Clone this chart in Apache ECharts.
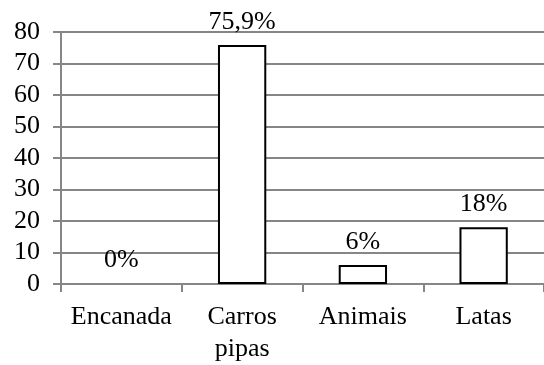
<!DOCTYPE html>
<html><head><meta charset="utf-8">
<script src="https://cdn.jsdelivr.net/npm/echarts@6/dist/echarts.min.js"></script>
<style>html,body{margin:0;padding:0;background:#fff}#c{width:544px;height:365px}</style>
</head><body><div id="c"></div>
<script>
const categories = ['Encanada', 'Carros\npipas', 'Animais', 'Latas'];
const values = [0, 75.9, 6, 18];
const valueLabels = ['0%', '75,9%', '6%', '18%'];
const yTicks = [0, 10, 20, 30, 40, 50, 60, 70, 80];

const font = "'Liberation Serif', 'Times New Roman', serif";
const chart = echarts.init(document.getElementById('c'));
chart.setOption({
  animation: false,
  grid: { left: 61, top: 32, width: 490, bottom: 78, containLabel: false },
  xAxis: {
    type: 'category', data: categories,
    axisLine: { lineStyle: { color: '#868686', width: 2 } },
    axisTick: { show: true, length: 8, lineStyle: { color: '#868686', width: 2 } },
    axisLabel: { interval: 0, color: '#000', fontFamily: font, fontSize: 26, margin: 17, lineHeight: 32 }
  },
  yAxis: {
    type: 'value', min: yTicks[0], max: yTicks[yTicks.length - 1], interval: 10,
    axisLine: { show: true, lineStyle: { color: '#868686', width: 2 } },
    axisTick: { show: true, length: 8, lineStyle: { color: '#868686', width: 2 } },
    splitLine: { lineStyle: { color: '#868686', width: 2 } },
    axisLabel: { color: '#000', fontFamily: font, fontSize: 26, margin: 21 }
  },
  series: [{
    type: 'bar', barWidth: '40%',
    data: values.map((v, i) => ({
      value: v,
      label: { formatter: valueLabels[i] },
      itemStyle: v === 0 ? { borderColor: 'transparent' } : {}
    })),
    itemStyle: { color: '#fff', borderColor: '#000', borderWidth: 2 },
    label: { show: true, position: 'top', distance: 10, color: '#000', fontFamily: font, fontSize: 26 }
  }]
});
</script></body></html>
